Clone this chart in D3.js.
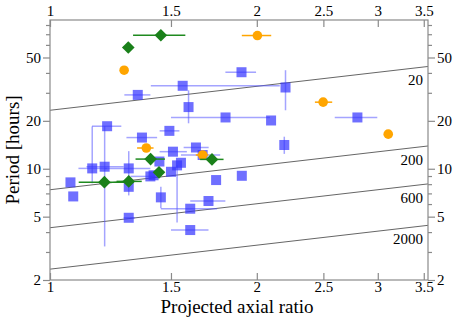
<!DOCTYPE html>
<html>
<head>
<meta charset="utf-8">
<script src="https://cdn.jsdelivr.net/npm/d3@7"></script>
<style>
  body { margin: 0; background: #fff; }
  text { font-family: "Liberation Serif", "DejaVu Serif", serif; fill: #000; }
</style>
</head>
<body>
<svg id="chart" width="457" height="321"></svg>
<script>
// [ratio, period, ratioLo, ratioHi, periodLo, periodHi]
const squares = [
  [1.342, 29.1, 1.283, 1.400, null, null],
  [1.560, 33.2, 1.402, 2.160, null, null],
  [1.591, 24.4, null, null, 19.3, 31.1],
  [1.801, 21.0, 1.500, 2.090, null, null],
  [2.098, 20.1, null, null, null, null],
  [2.202, 32.4, null, null, 23.3, 41.6],
  [1.900, 40.4, 1.800, 1.995, null, null],
  [2.802, 21.0, 2.597, 2.995, null, null],
  [2.193, 14.1, null, null, 12.4, 15.9],
  [1.902, 9.03, null, null, null, null],
  [1.211, 18.5, 1.151, 1.270, null, null],
  [1.152, 10.05, 1.100, 1.210, 8.1, 18.4],
  [1.201, 10.3, 1.130, 1.280, 3.25, 18.5],
  [1.361, 15.7, 1.292, 1.432, null, null],
  [1.302, 10.05, 1.200, 1.400, 6.8, 12.9],
  [1.302, 7.7, null, null, null, null],
  [1.071, 8.21, null, null, null, null],
  [1.081, 6.70, null, null, null, null],
  [1.302, 4.92, 1.280, 1.330, null, null],
  [1.400, 8.95, 1.310, 1.450, null, null],
  [1.415, 9.1, null, null, null, null],
  [1.492, 17.3, 1.444, 1.543, null, null],
  [1.510, 12.8, 1.444, 1.582, null, null],
  [1.631, 13.6, 1.565, 1.702, null, null],
  [1.443, 11.1, null, null, null, null],
  [1.500, 9.57, null, null, null, null],
  [1.531, 10.5, null, null, 4.6, 10.5],
  [1.551, 10.9, null, null, null, null],
  [1.745, 8.49, null, null, null, null],
  [1.450, 6.61, null, null, 5.64, 7.7],
  [1.600, 5.61, 1.450, 1.750, null, null],
  [1.701, 6.27, 1.600, 1.800, null, null],
  [1.600, 4.12, 1.500, 1.701, null, null],
  [1.668, 12.2, 1.551, 1.769, null, null]
];

// [ratio, period, ratioLo, ratioHi]
const circles = [
  [1.282, 41.6, null, null],
  [2.004, 68.7, 1.902, 2.099],
  [2.498, 26.2, 2.430, 2.575],
  [3.107, 16.5, null, null],
  [1.381, 13.5, 1.339, 1.415],
  [1.668, 12.2, 1.630, 1.700]
];

const diamonds = [
  [1.300, 57.8, null, null],
  [1.450, 69.0, 1.321, 1.574],
  [1.200, 8.24, 1.101, 1.309],
  [1.302, 8.33, 1.250, 1.360],
  [1.401, 11.5, 1.332, 1.470],
  [1.441, 9.49, 1.420, 1.460],
  [1.721, 11.45, 1.654, 1.789]
];

// density lines: label, period at ratio 1, period at right edge
const densityLabels = ["20", "200", "600", "2000"];
const densityStart = [23.3, 7.38, 4.26, 2.34];
const densityEnd = [43.9, 13.9, 8.03, 4.41];

const xTicks = [1, 1.5, 2, 2.5, 3, 3.5];
const yMajor = [2, 5, 10, 20, 50];
const yMinor = [3, 4, 6, 7, 8, 9, 30, 40, 60, 70, 80];

const svg = d3.select('#chart');
const plot = { left: 50, right: 428, top: 20, bottom: 280 };

const x = d3.scaleLog().domain([1, 3.55]).range([plot.left, plot.right]);
const y = d3.scaleLog().domain([2, 86]).range([plot.bottom, plot.top]);

const axisColor = '#8a8a8a';

// density lines
const dl = svg.append('g');
densityLabels.forEach((lab, i) => {
  dl.append('line')
    .attr('x1', x(1)).attr('x2', x(3.55))
    .attr('y1', y(densityStart[i])).attr('y2', y(densityEnd[i]))
    .attr('stroke', '#666').attr('stroke-width', 1);
  const ly = y(densityStart[i]) + (y(densityEnd[i]) - y(densityStart[i])) *
    (Math.log(3.4) / Math.log(3.55));
  dl.append('text')
    .attr('x', 423).attr('y', ly + 17.5)
    .attr('text-anchor', 'end')
    .attr('font-size', 15)
    .text(lab);
});

// error bars helper
function xErr(g, data, color, width) {
  g.selectAll(null)
    .data(data.filter(d => d[2] != null))
    .enter().append('line')
    .attr('x1', d => x(d[2])).attr('x2', d => x(d[3]))
    .attr('y1', d => y(d[1])).attr('y2', d => y(d[1]))
    .attr('stroke', color).attr('stroke-width', width);
}

// blue squares
const gb = svg.append('g');
xErr(gb, squares, 'rgba(90,90,255,0.55)', 1.5);
gb.selectAll(null)
  .data(squares.filter(d => d[4] != null))
  .enter().append('line')
  .attr('x1', d => x(d[0])).attr('x2', d => x(d[0]))
  .attr('y1', d => y(d[4])).attr('y2', d => y(d[5]))
  .attr('stroke', 'rgba(90,90,255,0.55)').attr('stroke-width', 1.5);
gb.selectAll('rect')
  .data(squares)
  .enter().append('rect')
  .attr('x', d => x(d[0]) - 5)
  .attr('y', d => y(d[1]) - 5)
  .attr('width', 10).attr('height', 10)
  .attr('fill', 'rgb(50,50,255)')
  .attr('fill-opacity', 0.7);

// orange circles
const go = svg.append('g');
xErr(go, circles, '#ffa500', 1.5);
go.selectAll('circle')
  .data(circles)
  .enter().append('circle')
  .attr('cx', d => x(d[0])).attr('cy', d => y(d[1]))
  .attr('r', 4.8)
  .attr('fill', '#ffa500');

// green diamonds
const gg = svg.append('g');
xErr(gg, diamonds, '#1f8a1f', 1.5);
gg.selectAll('path')
  .data(diamonds)
  .enter().append('path')
  .attr('d', d3.symbol().type(d3.symbolSquare).size(80))
  .attr('transform', d => `translate(${x(d[0])},${y(d[1])}) rotate(45)`)
  .attr('fill', '#1a801a');

// frame
svg.append('rect')
  .attr('x', plot.left).attr('y', plot.top)
  .attr('width', plot.right - plot.left).attr('height', plot.bottom - plot.top)
  .attr('fill', 'none').attr('stroke', axisColor).attr('stroke-width', 1.2);

// x axes (ticks inward)
const xFmt = d => d3.format('')(d);
svg.append('g')
  .attr('transform', `translate(0,${plot.bottom})`)
  .call(d3.axisBottom(x).tickValues(xTicks).tickFormat(xFmt).tickSizeInner(-7).tickSizeOuter(0).tickPadding(1))
  .call(g => g.select('.domain').remove())
  .call(g => g.selectAll('line').attr('stroke', axisColor).attr('stroke-width', 1.2))
  .call(g => g.selectAll('text').attr('font-size', 15).attr('font-family', 'Liberation Serif'));

svg.append('g')
  .attr('transform', `translate(0,${plot.top})`)
  .call(d3.axisTop(x).tickValues(xTicks).tickFormat(xFmt).tickSizeInner(-7).tickSizeOuter(0).tickPadding(4))
  .call(g => g.select('.domain').remove())
  .call(g => g.selectAll('line').attr('stroke', axisColor).attr('stroke-width', 1.2))
  .call(g => g.selectAll('text').attr('font-size', 15).attr('font-family', 'Liberation Serif'));

// y axes (ticks outward)
function yAxis(gen, pos) {
  svg.append('g')
    .attr('transform', `translate(${pos},0)`)
    .call(gen(y).tickValues(yMajor).tickFormat(d3.format('')).tickSizeInner(7).tickSizeOuter(0).tickPadding(2))
    .call(g => g.select('.domain').remove())
    .call(g => g.selectAll('line').attr('stroke', axisColor).attr('stroke-width', 1.2))
    .call(g => g.selectAll('text').attr('font-size', 15).attr('font-family', 'Liberation Serif'));
  svg.append('g')
    .attr('transform', `translate(${pos},0)`)
    .call(gen(y).tickValues(yMinor).tickFormat('').tickSizeInner(4).tickSizeOuter(0))
    .call(g => g.select('.domain').remove())
    .call(g => g.selectAll('line').attr('stroke', axisColor).attr('stroke-width', 1.2));
}
yAxis(d3.axisLeft, plot.left);
yAxis(d3.axisRight, plot.right);

// titles
svg.append('text')
  .attr('x', 237).attr('y', 313)
  .attr('text-anchor', 'middle')
  .attr('font-size', 19)
  .text('Projected axial ratio');

svg.append('text')
  .attr('transform', 'translate(19,150) rotate(-90)')
  .attr('text-anchor', 'middle')
  .attr('font-size', 19)
  .text('Period [hours]');
</script>
</body>
</html>
